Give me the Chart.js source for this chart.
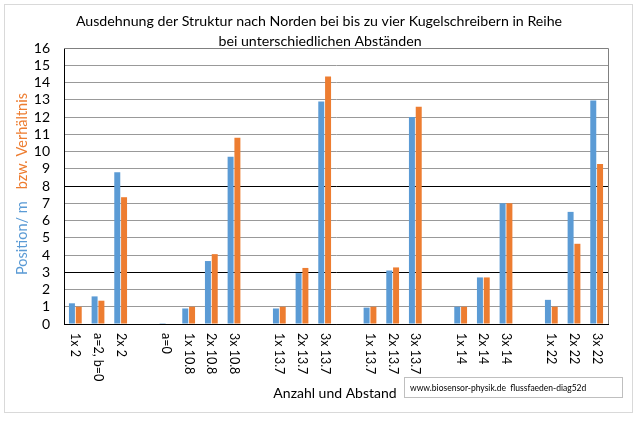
<!DOCTYPE html>
<html>
<head>
<meta charset="utf-8">
<script src="https://cdn.jsdelivr.net/npm/chart.js@4"></script>
<style>
  html, body { margin: 0; padding: 0; background: #fff; }
  #wrap { width: 638px; height: 421px; position: relative; }
</style>
</head>
<body>
<div id="wrap"><canvas id="chart"></canvas></div>
<script>
// categories (empty strings are the gaps between groups)
const categories = [
  "1x 2", "a=2, b=0", "2x 2", "",
  "a=0", "1x 10.8", "2x 10.8", "3x 10.8", "",
  "1x 13.7", "2x 13.7", "3x 13.7", "",
  "1x 13.7", "2x 13.7", "3x 13.7", "",
  "1x 14", "2x 14", "3x 14", "",
  "1x 22", "2x 22", "3x 22"
];
// position in m (blue)
const positionValues = [
  1.2, 1.6, 8.8, null,
  0.05, 0.9, 3.65, 9.7, null,
  0.9, 2.95, 12.9, null,
  0.95, 3.1, 12.0, null,
  1.0, 2.7, 7.0, null,
  1.4, 6.5, 12.95
];
// ratio (orange)
const ratioValues = [
  1.0, 1.35, 7.35, null,
  0, 1.0, 4.05, 10.8, null,
  1.0, 3.25, 14.35, null,
  1.0, 3.28, 12.6, null,
  1.0, 2.7, 7.0, null,
  1.0, 4.65, 9.27
];
const yTicks = [0, 1, 2, 3, 4, 5, 6, 7, 8, 9, 10, 11, 12, 13, 14, 15, 16];
const darkGridValues = [0, 3, 8];

const titleLines = [
  "Ausdehnung der Struktur nach Norden bei bis zu vier Kugelschreibern in Reihe",
  "bei unterschiedlichen Abständen"
];
const xTitle = "Anzahl und Abstand";
const yTitleBlue = "Position/ m";
const yTitleOrange = "bzw. Verhältnis";
const watermark = "www.biosensor-physik.de  flussfaeden-diag52d";

const BLUE = "#5B9BD5";
const ORANGE = "#ED7D31";
const FONT = "Lato, 'Open Sans', sans-serif";

const decorPlugin = {
  id: "decor",
  beforeDraw(chart) {
    const ctx = chart.ctx;
    ctx.save();
    ctx.fillStyle = "#fff";
    ctx.fillRect(0, 0, chart.width, chart.height);
    ctx.strokeStyle = "#d9d9d9";
    ctx.lineWidth = 1;
    ctx.strokeRect(4.5, 4.5, 628, 408);
    ctx.restore();
  },
  afterDraw(chart) {
    const ctx = chart.ctx;
    const area = chart.chartArea;
    const xs = chart.scales.x;
    ctx.save();

    // plot frame (top and right)
    ctx.strokeStyle = "#808080";
    ctx.lineWidth = 1;
    ctx.beginPath();
    ctx.moveTo(area.left, Math.round(area.top) + 0.5);
    ctx.lineTo(Math.round(area.right) + 0.5, Math.round(area.top) + 0.5);
    ctx.lineTo(Math.round(area.right) + 0.5, area.bottom);
    ctx.stroke();

    // title
    ctx.fillStyle = "#000";
    ctx.font = "14.2px " + FONT;
    ctx.textAlign = "center";
    ctx.textBaseline = "middle";
    ctx.fillText(titleLines[0], 319, 21);
    ctx.fillText(titleLines[1], 320, 41);

    // x tick labels, rotated clockwise
    ctx.font = "12.5px " + FONT;
    ctx.textAlign = "left";
    ctx.textBaseline = "middle";
    categories.forEach((lab, i) => {
      if (!lab) return;
      const x = xs.getPixelForValue(i);
      ctx.save();
      ctx.translate(x, area.bottom + 9);
      ctx.rotate(Math.PI / 2);
      ctx.fillText(lab, 0, 0);
      ctx.restore();
    });

    // x axis title
    ctx.font = "14px " + FONT;
    ctx.textAlign = "center";
    ctx.fillText(xTitle, 335, 393);

    // y axis title, two colours (reads bottom to top)
    ctx.font = "14.5px " + FONT;
    const gap = 12;
    const wB = ctx.measureText(yTitleBlue).width;
    ctx.save();
    ctx.translate(22, 275);
    ctx.rotate(-Math.PI / 2);
    ctx.textAlign = "left";
    ctx.fillStyle = BLUE;
    ctx.fillText(yTitleBlue, 0, 0);
    ctx.fillStyle = ORANGE;
    ctx.fillText(yTitleOrange, wB + gap, 0);
    ctx.restore();

    // watermark box
    ctx.strokeStyle = "#bfbfbf";
    ctx.strokeRect(404.5, 377.5, 218, 20);
    ctx.fillStyle = "#000";
    ctx.font = "8.5px " + FONT;
    ctx.textAlign = "left";
    ctx.fillText(watermark, 410, 388);

    ctx.restore();
  }
};

new Chart(document.getElementById("chart"), {
  type: "bar",
  data: {
    labels: categories,
    datasets: [
      { label: yTitleBlue, data: positionValues, backgroundColor: BLUE },
      { label: yTitleOrange, data: ratioValues, backgroundColor: ORANGE }
    ]
  },
  options: {
    responsive: true,
    maintainAspectRatio: false,
    animation: false,
    devicePixelRatio: 1,
    categoryPercentage: 0.6,
    barPercentage: 0.88,
    layout: { padding: { left: 0, right: 30, top: 48, bottom: 97 } },
    plugins: {
      legend: { display: false },
      tooltip: { enabled: false },
      title: { display: false }
    },
    scales: {
      x: {
        ticks: { display: false },
        grid: { display: false, drawTicks: false },
        border: { color: "#000", width: 1 },
        afterFit(scale) { scale.height = 0; }
      },
      y: {
        min: 0,
        max: 16,
        afterBuildTicks(scale) { scale.ticks = yTicks.map(v => ({ value: v })); },
        afterFit(scale) { scale.width = 64; },
        ticks: {
          color: "#000",
          padding: 14,
          autoSkip: false,
          stepSize: 1,
          font: { family: FONT, size: 14 }
        },
        grid: {
          drawTicks: false,
          color: ctx => darkGridValues.includes(ctx.tick.value) ? "#000" : "#999",
          lineWidth: 1
        },
        border: { color: "#000", width: 1 }
      }
    }
  },
  plugins: [decorPlugin]
});
</script>
</body>
</html>
